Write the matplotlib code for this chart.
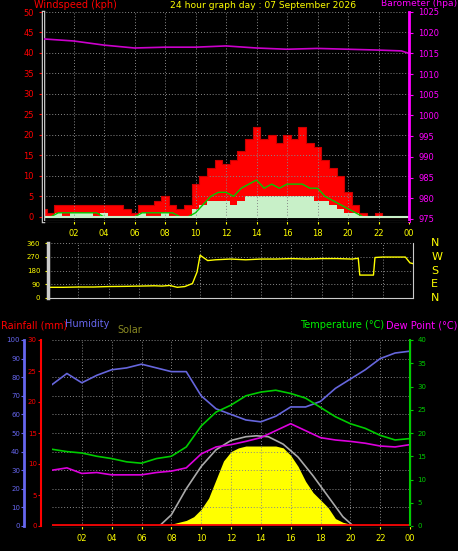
import matplotlib
matplotlib.use("Agg")
import matplotlib.pyplot as plt

hours_half = [i * 0.5 for i in range(49)]
gust = [2,1,3,3,3,3,3,3,3,3,3,2,1,3,3,4,5,3,2,3,8,10,12,14,13,14,16,19,22,19,20,18,20,19,22,18,17,14,12,10,6,3,1,0,1,0,0,0,0]
wind_avg = [0,0,1,0,1,1,1,0,1,0,0,0,0,1,0,0,1,0,0,0,2,3,4,4,4,3,4,5,5,5,5,5,5,5,5,5,4,4,3,2,1,1,0,0,0,0,0,0,0]
wind_10min = [0,0,1,1,1,1,1,1,0,0,0,0,0,1,1,1,1,1,0,0,1,3,5,6,6,5,7,8,9,7,8,7,8,8,8,7,7,5,4,3,2,1,0,0,0,0,0,0,0]
baro_h = [0,2,4,6,8,10,12,14,16,18,20,22,23.5,24]
baro = [1018.5,1018,1017,1016.3,1016.5,1016.5,1016.8,1016.3,1016,1016.2,1016,1015.8,1015.6,1015]

dir_h = [0,1,2,3,4,5,6,7,7.5,8,8.5,9,9.5,9.8,10,10.5,11,12,13,14,15,16,17,18,19,20,20.4,20.5,21,21.4,21.5,22,23,23.5,23.8,24]
dir_v = [70,70,72,72,75,76,78,80,78,82,70,75,95,170,280,245,250,255,250,255,255,258,255,258,258,255,260,150,150,150,265,268,268,268,230,225]

hours = list(range(25))
humidity = [76,82,77,81,84,85,87,85,83,83,70,63,60,57,56,59,64,64,67,74,79,84,90,93,94]
temperature = [16.5,16,15.7,15,14.5,13.8,13.5,14.5,15,17,21.5,24.5,26,28,28.8,29.2,28.5,27.5,25.5,23.5,22,21,19.5,18.5,18.8]
dewpoint = [12,12.5,11.3,11.5,11,11,11,11.5,11.8,12.5,15.5,17,17.5,18.2,19,20.5,22,20.5,19,18.5,18.2,17.8,17.2,17,17.5]
solar_h = [7.2,8,9,9.5,10,10.5,11,11.5,12,12.5,13,14,15,15.5,16,16.5,17,17.5,18,18.5,19,19.5,20,20.2]
solar = [0,1,3,5,9,15,25,35,40,42,43,43,43,42,38,32,24,18,14,10,4,2,1,0]
theo_h = [7.2,8,9,10,11,12,13,13.7,14.5,15.5,16.5,17.5,18.5,19.5,20.2]
theo = [0,6,20,32,41,46,48,48.5,48,44,37,27,16,5,0]
xticks = [2,4,6,8,10,12,14,16,18,20,22,24]
xlabels = ["02","04","06","08","10","12","14","16","18","20","22","00"]

plt.rcParams["font.family"] = ["DejaVu Sans"]

W, H = 458, 551
fig = plt.figure(figsize=(W/100, H/100), dpi=100, facecolor="black")
FS = 6

def rect(l, t, r, b):
    return [l/W, 1-b/H, (r-l)/W, (b-t)/H]

def style(ax):
    ax.set_facecolor("black")
    ax.grid(True, color="#888888", linestyle=(0, (1, 2)), linewidth=0.7)
    for s in ax.spines.values():
        s.set_color("#cccccc")
    ax.spines["top"].set_visible(False)
    ax.set_xlim(0, 24)
    ax.set_xticks(xticks)

# top panel
ax1 = fig.add_axes(rect(43, 12, 409, 221))
style(ax1)
ax1.fill_between(hours_half, gust, step="mid", color="#ff0000", linewidth=0)
ax1.step(hours_half, gust, where="mid", color="#cc0000", linewidth=0.8)
ax1.fill_between(hours_half, wind_avg, step="mid", color="#c8f0c8", linewidth=0)
ax1.plot(hours_half, wind_10min, color="#00cc00", linewidth=1)
ax1.axhline(0, color="#c8f0c8", linewidth=1.5)
ax1.set_ylim(-1, 50)
ax1.set_yticks(range(0, 51, 5))
ax1.tick_params(axis="y", colors="#ff0000", labelsize=FS, length=3)
ax1.tick_params(axis="x", colors="#ffff00", labelsize=FS, length=2)
ax1.set_xticklabels(xlabels)
ax1.spines["left"].set_linewidth(2.5)
ax1.spines["right"].set_color("#ff00ff")
ax1b = ax1.twinx()
ax1b.plot(baro_h, baro, color="#cc00cc", linewidth=1.2)
ax1b.set_ylim(974.5, 1025)
ax1b.set_yticks(range(975, 1026, 5))
ax1b.tick_params(axis="y", colors="#ff00ff", labelsize=FS, length=3)
ax1b.spines["right"].set_color("#ff00ff")
ax1b.spines["right"].set_linewidth(2)
ax1b.spines["top"].set_visible(False)
TF = 7
fig.text(34/W, 1-5/H, "Windspeed (kph)", color="#ff0000", fontsize=TF, va="center")
fig.text(170/W, 1-5/H, "24 hour graph day : 07 September 2026", color="#ffff00", fontsize=6.6, va="center")
fig.text(457/W, 1-4/H, "Barometer (hpa)", color="#ff00ff", fontsize=6.6, va="center", ha="right")

# direction panel
ax2 = fig.add_axes(rect(48, 243, 413, 298))
style(ax2)
ax2.plot(dir_h, dir_v, color="#ffff00", linewidth=1)
ax2.set_ylim(0, 360)
ax2.set_yticks([0, 90, 180, 270, 360])
ax2.tick_params(axis="y", colors="#ffff00", labelsize=FS-1, length=2)
ax2.tick_params(axis="x", length=0, labelbottom=False)
ax2.spines["left"].set_linewidth(2.5)
for lab, v in zip(["N", "W", "S", "E", "N"], [360, 270, 180, 90, 0]):
    ax2.text(1.05, v/360, lab, transform=ax2.transAxes, color="#ffff00", fontsize=8, va="center")

# bottom panel
ax3 = fig.add_axes(rect(52, 340, 410, 526))
style(ax3)
ax3.fill_between(solar_h, solar, color="#ffff00", linewidth=0)
ax3.plot(theo_h, theo, color="#aaaaaa", linewidth=1.2)
ax3.plot(hours, humidity, color="#6666dd", linewidth=1.2)
ax3.axhline(0.3, color="#ff0000", linewidth=2)
ax3.set_ylim(0, 100)
ax3.set_yticks(range(0, 101, 10))
ax3.tick_params(axis="y", colors="#6666ee", labelsize=FS-1, length=2, pad=1)
ax3.tick_params(axis="x", colors="#ffff00", labelsize=FS, length=2)
ax3.set_xticklabels(xlabels)
ax3.spines["left"].set_position(("outward", 20))
ax3.spines["left"].set_color("#6666ee")
ax3.spines["left"].set_linewidth(2)
axr = ax3.twinx()
axr.set_ylim(0, 30)
axr.set_yticks(range(0, 31, 5))
axr.yaxis.set_ticks_position("left")
axr.yaxis.set_label_position("left")
axr.spines["left"].set_visible(True)
axr.spines["left"].set_color("#ff0000")
axr.spines["left"].set_position(("outward", 8))
axr.spines["left"].set_linewidth(1.5)
axr.spines["right"].set_visible(False)
axr.spines["top"].set_visible(False)
axr.tick_params(axis="y", colors="#ff0000", labelsize=FS-1, length=2, pad=1)
axt = ax3.twinx()
axt.plot(hours, temperature, color="#00cc00", linewidth=1.2)
axt.plot(hours, dewpoint, color="#dd00dd", linewidth=1.2)
axt.set_ylim(0, 40)
axt.set_yticks(range(0, 41, 5))
axt.tick_params(axis="y", colors="#00cc00", labelsize=FS-1, length=2)
axt.spines["right"].set_color("#00cc00")
axt.spines["right"].set_linewidth(1.5)
axt.spines["top"].set_visible(False)
axt.spines["left"].set_visible(False)
fig.text(1/W, 1-325/H, "Rainfall (mm)", color="#ff0000", fontsize=TF, va="center")
fig.text(65/W, 1-324/H, "Humidity", color="#6666ee", fontsize=TF, va="center")
fig.text(117/W, 1-330/H, "Solar", color="#888822", fontsize=TF, va="center")
fig.text(384/W, 1-325/H, "Temperature (°C)", color="#00ee00", fontsize=TF, va="center", ha="right")
fig.text(457/W, 1-325/H, "Dew Point (°C)", color="#ff00ff", fontsize=TF, va="center", ha="right")

fig.savefig("out.png", dpi=100, facecolor="black")
